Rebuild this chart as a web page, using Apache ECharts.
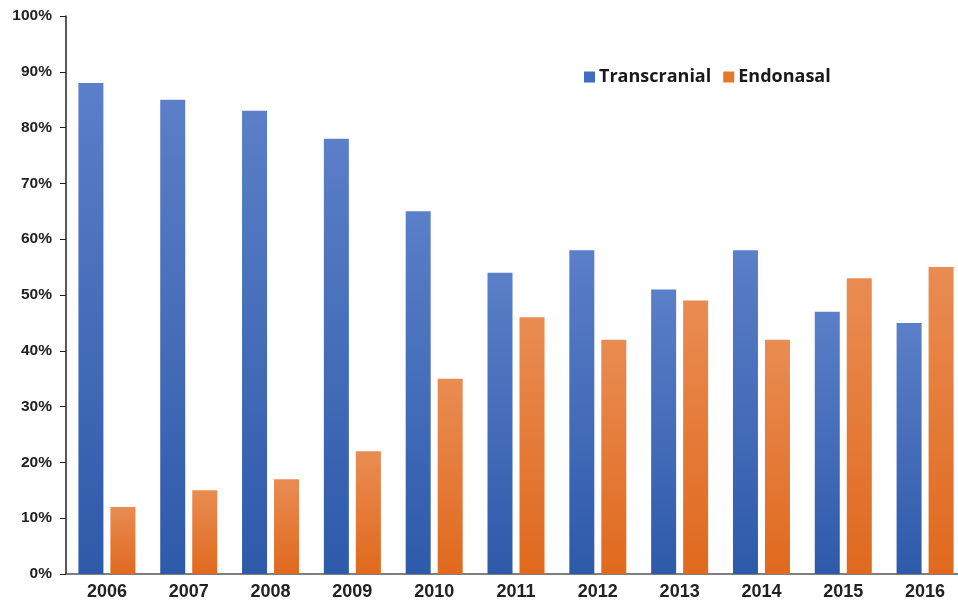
<!DOCTYPE html>
<html>
<head>
<meta charset="utf-8">
<script src="https://cdn.jsdelivr.net/npm/echarts@6/dist/echarts.min.js"></script>
<style>
  html, body { margin: 0; padding: 0; background: #fff; }
  #chart { width: 958px; height: 603px; }
</style>
</head>
<body>
<div id="chart"></div>
<script>
const years = ['2006', '2007', '2008', '2009', '2010', '2011', '2012', '2013', '2014', '2015', '2016'];
const transcranial = [88, 85, 83, 78, 65, 54, 58, 51, 58, 47, 45];
const endonasal = [12, 15, 17, 22, 35, 46, 42, 49, 42, 53, 55];

const chart = echarts.init(document.getElementById('chart'));

function grad(top, bottom) {
  return new echarts.graphic.LinearGradient(0, 0, 0, 1, [
    { offset: 0, color: top },
    { offset: 1, color: bottom }
  ]);
}

const option = {
  animation: false,
  grid: { left: 66, right: -8, top: 16, bottom: 29, containLabel: false, outerBoundsMode: 'none' },
  legend: {
    left: 579,
    top: 63,
    itemWidth: 11,
    itemHeight: 11,
    itemGap: 12,
    icon: 'rect',
    textStyle: { fontSize: 18, fontWeight: 'bold', color: '#1a1a1a', fontFamily: 'Open Sans', padding: [0, 0, 0, -1] },
    data: [
      { name: 'Transcranial', itemStyle: { color: '#3f6cc0' } },
      { name: 'Endonasal', itemStyle: { color: '#e8772e' } }
    ]
  },
  xAxis: {
    type: 'category',
    data: years,
    axisLine: { lineStyle: { color: '#555', width: 1.5 } },
    axisTick: { show: false },
    axisLabel: { fontSize: 18, fontWeight: 'bold', color: '#222', margin: 9, fontFamily: 'Liberation Sans' }
  },
  yAxis: {
    type: 'value',
    min: 0,
    max: 100,
    interval: 10,
    axisLine: { show: true, lineStyle: { color: '#222', width: 1.5 } },
    axisTick: { show: true, length: 6, lineStyle: { color: '#222' } },
    splitLine: { show: false },
    axisLabel: { formatter: '{value}%', fontSize: 15.5, fontWeight: 'bold', color: '#222', margin: 14, fontFamily: 'Liberation Sans' }
  },
  series: [
    {
      name: 'Transcranial',
      type: 'bar',
      data: transcranial,
      barWidth: 25,
      barGap: '28%',
      itemStyle: { color: grad('#5b7fc8', '#2e5aaa') }
    },
    {
      name: 'Endonasal',
      type: 'bar',
      data: endonasal,
      barWidth: 25,
      barGap: '28%',
      itemStyle: { color: grad('#e98c52', '#e0691e') }
    }
  ]
};
chart.setOption(option);
</script>
</body>
</html>
